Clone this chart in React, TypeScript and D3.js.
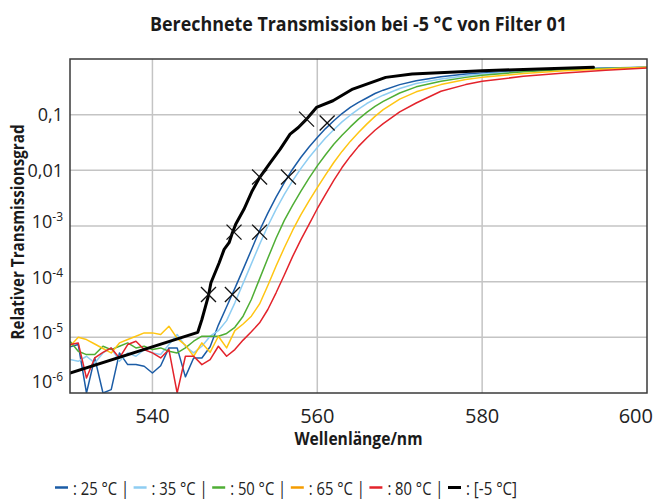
import React from 'react';
import * as d3 from 'd3';

// ---------- data (transmission stored as log10 values) ----------
const WAVELENGTHS = [
  530, 531, 532, 533, 534, 535, 536, 537, 538, 539, 540, 541, 542, 543, 544, 545, 546, 547, 548, 549,
  550, 551, 552, 553, 554, 555, 556, 557, 558, 559, 560, 561, 562, 563, 564, 565, 566, 567, 568,
  570, 572, 575, 578, 580, 585, 590, 595, 600,
];

const LOG_T_25 = [
  -5.17, -5.13, -6.0, -5.37, -6.0, -5.94, -5.28, -5.49, -5.49, -5.52, -5.64, -5.51, -5.19, -5.19, -5.71, -5.37, -5.37, -5.17, -4.78, -4.45,
  -4.12, -3.78, -3.43, -3.08, -2.77, -2.48, -2.22, -1.98, -1.77, -1.58, -1.41, -1.25, -1.11, -0.98, -0.87, -0.78, -0.70, -0.62, -0.56,
  -0.46, -0.39, -0.32, -0.27, -0.25, -0.21, -0.18, -0.16, -0.15,
];
const LOG_T_35 = [
  -5.40, -5.43, -5.34, -5.46, -5.28, -5.19, -5.43, -5.28, -5.34, -5.22, -5.28, -5.31, -5.13, -4.95, -5.16, -5.28, -5.16, -4.98, -4.88, -4.70,
  -4.38, -4.03, -3.68, -3.33, -3.00, -2.70, -2.43, -2.19, -1.97, -1.77, -1.59, -1.42, -1.27, -1.13, -1.01, -0.90, -0.80, -0.72, -0.65,
  -0.53, -0.44, -0.36, -0.30, -0.27, -0.22, -0.19, -0.17, -0.15,
];
const LOG_T_50 = [
  -5.07, -5.25, -5.31, -5.31, -5.16, -5.22, -5.16, -5.10, -5.19, -5.16, -5.22, -5.19, -5.25, -5.28, -5.19, -5.07, -4.98, -4.98, -4.98, -4.93,
  -4.82, -4.62, -4.32, -3.95, -3.58, -3.22, -2.90, -2.63, -2.38, -2.14, -1.92, -1.72, -1.53, -1.37, -1.22, -1.08, -0.96, -0.85, -0.76,
  -0.61, -0.50, -0.40, -0.33, -0.29, -0.23, -0.19, -0.17, -0.15,
];
const LOG_T_65 = [
  -5.16, -5.00, -5.04, -5.12, -5.20, -5.28, -5.10, -5.04, -4.98, -4.92, -4.92, -4.95, -4.80, -5.02, -5.14, -5.34, -5.10, -5.27, -4.98, -5.19,
  -4.88, -4.76, -4.62, -4.40, -4.07, -3.72, -3.39, -3.08, -2.80, -2.55, -2.31, -2.08, -1.86, -1.66, -1.48, -1.32, -1.17, -1.03, -0.91,
  -0.72, -0.59, -0.46, -0.37, -0.33, -0.26, -0.21, -0.18, -0.15,
];
const LOG_T_80 = [
  -5.13, -5.10, -5.73, -5.37, -5.27, -5.19, -5.37, -5.13, -5.07, -5.22, -5.28, -5.37, -5.22, -6.0, -5.34, -5.34, -5.49, -5.40, -5.16, -5.34,
  -5.22, -5.05, -4.90, -4.74, -4.50, -4.20, -3.88, -3.55, -3.25, -2.97, -2.69, -2.43, -2.18, -1.95, -1.75, -1.57, -1.42, -1.28, -1.16,
  -0.95, -0.79, -0.58, -0.46, -0.40, -0.31, -0.25, -0.20, -0.16,
];

const WL_MINUS5 = [
  530, 545.5, 546.0, 546.8, 547.1, 548.1, 548.7, 549.3, 549.7, 550.1, 551.1, 552.1, 553.0, 554.3, 555.5,
  556.7, 557.7, 558.7, 559.9, 561.9, 564.3, 568.3, 571.5, 580, 593.5,
];
const LOG_T_MINUS5 = [
  -5.64, -4.91, -4.68, -4.25, -4.02, -3.66, -3.42, -3.30, -3.12, -2.97, -2.70, -2.37, -2.13, -1.86, -1.62,
  -1.35, -1.23, -1.08, -0.87, -0.75, -0.54, -0.33, -0.27, -0.21, -0.15,
];

// X markers (computed points on the -5 °C curve and on the 25 °C curve)
const MARK_WL_MINUS5 = [546.8, 549.9, 553.0, 558.7];
const MARK_LOG_MINUS5 = [-4.23, -3.11, -2.12, -1.08];
const MARK_WL_25 = [549.7, 553.0, 556.5, 561.2];
const MARK_LOG_25 = [-4.23, -3.11, -2.12, -1.15];

const SERIES_LABELS = ['25 °C', '35 °C', '50 °C', '65 °C', '80 °C'];
const SERIES_LOGS = [LOG_T_25, LOG_T_35, LOG_T_50, LOG_T_65, LOG_T_80];
const SERIES_COLORS = ['#1b5ca6', '#8ecdf2', '#4fae35', '#ffc512', '#e3232b'];
const LEGEND_COLORS = ['#1b5ca6', '#8ecdf2', '#4fae35', '#f59c00', '#e3232b'];
const REF_LABEL = '[-5 °C]';
const REF_COLOR = '#000000';

const X_TICKS = [540, 560, 580, 600];
const Y_TICK_EXPS = [-6, -5, -4, -3, -2, -1];

const TITLE = 'Berechnete Transmission bei -5 °C von Filter 01';
const X_TITLE = 'Wellenlänge/nm';
const Y_TITLE = 'Relativer Transmissionsgrad';

// ---------- layout ----------
const W = 656;
const H = 500;
const L = 70;
const R = 647;
const T = 59;
const B = 393;
const FONT = "'Open Sans', 'Noto Sans', sans-serif";

export default function App() {
  const x = d3.scaleLinear().domain([530, 600]).range([L, R]);
  const y = d3.scaleLog().domain([1e-6, 1]).range([B, T]);

  const line = d3
    .line<[number, number]>()
    .x((d) => x(d[0]))
    .y((d) => y(Math.pow(10, d[1])));

  const colored = SERIES_LOGS.map((logs) => WAVELENGTHS.map((w, i) => [w, logs[i]] as [number, number]));
  const refPts = WL_MINUS5.map((w, i) => [w, LOG_T_MINUS5[i]] as [number, number]);

  const markers = [
    ...MARK_WL_MINUS5.map((w, i) => [w, MARK_LOG_MINUS5[i]]),
    ...MARK_WL_25.map((w, i) => [w, MARK_LOG_25[i]]),
  ];
  const ms = 7.5;

  const yLabel = (e: number) => {
    const gy = y(Math.pow(10, e));
    if (e === -1 || e === -2) {
      return (
        <text key={e} x={63} y={gy + 6.5} textAnchor="end" fontSize={18} fontFamily={FONT} fill="#222">
          {e === -1 ? '0,1' : '0,01'}
        </text>
      );
    }
    const by = Math.min(gy + 2, B - 5);
    return (
      <text key={e} x={63} y={by} textAnchor="end" fontSize={18} fontFamily={FONT} fill="#222">
        10
        <tspan fontSize={12} dy={-7}>
          {String(e)}
        </tspan>
      </text>
    );
  };

  // legend items: coloured dash + ": label |" text
  const legendItems = [
    ...SERIES_LABELS.map((lab, i) => ({ label: `: ${lab} |`, color: LEGEND_COLORS[i], width: 56, bold: false })),
    { label: `: ${REF_LABEL}`, color: REF_COLOR, width: 51, bold: true },
  ];
  const legendX0 = 55;
  const legendStep = 78.6;
  const legendY = 495;

  return (
    <svg width={W} height={H} style={{ position: 'absolute', left: 0, top: 0, background: '#fff' }}>
      <defs>
        <clipPath id="plotclip">
          <rect x={L} y={T} width={R - L} height={B - T} />
        </clipPath>
      </defs>
      <rect x={0} y={0} width={W} height={H} fill="#fff" />

      {/* grid */}
      {X_TICKS.filter((t) => t < 600).map((t) => (
        <line key={'gx' + t} x1={x(t)} x2={x(t)} y1={T} y2={B} stroke="#c4c4c4" strokeWidth={1.5} />
      ))}
      {Y_TICK_EXPS.filter((e) => e > -6).map((e) => (
        <line key={'gy' + e} x1={L} x2={R} y1={y(Math.pow(10, e))} y2={y(Math.pow(10, e))} stroke="#c4c4c4" strokeWidth={1.5} />
      ))}

      {/* curves */}
      <g clipPath="url(#plotclip)">
        {colored.map((pts, i) => (
          <path key={'s' + i} d={line(pts) || ''} fill="none" stroke={SERIES_COLORS[i]} strokeWidth={1.5} strokeLinejoin="round" />
        ))}
        <path d={line(refPts) || ''} fill="none" stroke={REF_COLOR} strokeWidth={3} strokeLinejoin="round" strokeLinecap="round" />
      </g>

      {/* markers */}
      {markers.map((m, i) => {
        const cx = x(m[0]);
        const cy = y(Math.pow(10, m[1]));
        return (
          <g key={'m' + i} stroke="#111" strokeWidth={1.3}>
            <line x1={cx - ms} y1={cy - ms} x2={cx + ms} y2={cy + ms} />
            <line x1={cx - ms} y1={cy + ms} x2={cx + ms} y2={cy - ms} />
          </g>
        );
      })}

      {/* frame */}
      <rect x={L} y={T} width={R - L} height={B - T} fill="none" stroke="#3a3a3a" strokeWidth={1.5} />

      {/* x tick labels */}
      {X_TICKS.map((t) => {
        const px = x(t);
        const overflow = px + 17 > W;
        return (
          <text
            key={'xl' + t}
            x={overflow ? W - 3 : px}
            y={423}
            textAnchor={overflow ? 'end' : 'middle'}
            fontSize={20}
            fontFamily={FONT}
            fill="#222"
          >
            {t}
          </text>
        );
      })}

      {/* y tick labels */}
      {Y_TICK_EXPS.map((e) => yLabel(e))}

      {/* titles */}
      <text x={358.5} y={30.5} textAnchor="middle" fontSize={19} fontWeight={700} fontFamily={FONT} fill="#1a1a1a"
        textLength={417} lengthAdjust="spacingAndGlyphs">
        {TITLE}
      </text>
      <text x={358.5} y={445} textAnchor="middle" fontSize={17} fontWeight={700} fontFamily={FONT} fill="#1a1a1a"
        textLength={128} lengthAdjust="spacingAndGlyphs">
        {X_TITLE}
      </text>
      <text
        transform={`translate(24, ${(T + B) / 2 + 6}) rotate(-90)`}
        textAnchor="middle"
        fontSize={17}
        fontWeight={700}
        fontFamily={FONT}
        fill="#1a1a1a"
        textLength={215}
        lengthAdjust="spacingAndGlyphs"
      >
        {Y_TITLE}
      </text>

      {/* legend */}
      {legendItems.map((it, i) => {
        const x0 = legendX0 + i * legendStep;
        return (
          <g key={'lg' + i}>
            <line x1={x0} x2={x0 + 13} y1={legendY - 7.5} y2={legendY - 7.5} stroke={it.color} strokeWidth={it.bold ? 3 : 2.5} />
            <text x={x0 + 18} y={legendY} fontSize={19} fontFamily={FONT} fill="#222" textLength={it.width} lengthAdjust="spacingAndGlyphs">
              {it.label}
            </text>
          </g>
        );
      })}
    </svg>
  );
}
